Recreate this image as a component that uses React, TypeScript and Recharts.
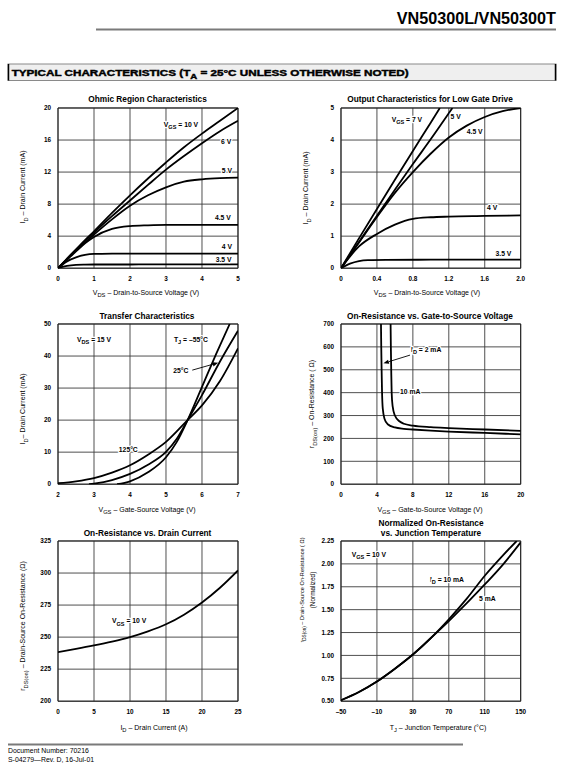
import React from 'react';
import {
  LineChart,
  Line,
  XAxis,
  YAxis,
  CartesianGrid,
  ReferenceDot,
  ReferenceLine,
  ReferenceArea,
} from 'recharts';

const FONT = '"Liberation Sans", Arial, Helvetica, sans-serif';
type P = [number, number];
const zip = (xs: number[], ys: number[]): P[] => xs.map((x, i) => [x, ys[i]] as P);

// ---------- 1. Ohmic Region Characteristics (ID mA vs VDS V)
const ohmicVds = [0, 0.25, 0.5, 0.75, 1, 1.5, 2, 2.5, 3, 3.5, 4, 4.5, 5];
const ohmic10V = [0, 1.2, 2.35, 3.5, 4.6, 6.9, 9.1, 11.2, 13.2, 15.1, 16.8, 18.4, 20.0];
const ohmic6V = [0, 1.15, 2.3, 3.4, 4.45, 6.5, 8.45, 10.4, 12.3, 14.0, 15.6, 17.1, 18.4];
const ohmic5V = [0, 1.1, 2.2, 3.2, 4.2, 6.1, 7.8, 9.1, 10.1, 10.8, 11.1, 11.25, 11.3];
const ohmic45V = [0, 1.05, 2.1, 3.1, 3.9, 4.9, 5.25, 5.35, 5.4, 5.4, 5.4, 5.4, 5.4];
const ohmic4V = [0, 0.85, 1.35, 1.65, 1.78, 1.82, 1.83, 1.83, 1.83, 1.83, 1.83, 1.83, 1.83];
const ohmic35V = [0, 0.3, 0.42, 0.45, 0.46, 0.46, 0.46, 0.47, 0.47, 0.47, 0.47, 0.47, 0.47];
const ohmicXTicks = [0, 1, 2, 3, 4, 5];
const ohmicYTicks = [0, 4, 8, 12, 16, 20];
const ohmicLabels = [
  { x: 2.94, y: 17.9, text: 'V_{GS} = 10 V' },
  { x: 4.53, y: 15.8, text: '6 V' },
  { x: 4.55, y: 12.2, text: '5 V' },
  { x: 4.36, y: 6.3, text: '4.5 V' },
  { x: 4.55, y: 2.7, text: '4 V' },
  { x: 4.38, y: 1.04, text: '3.5 V' },
];

// ---------- 2. Output Characteristics for Low Gate Drive
const low7V: P[] = [[0, 0], [0.2, 0.93], [0.4, 1.85], [0.6, 2.76], [0.8, 3.66], [1.0, 4.55], [1.1, 5.0]];
const low5V: P[] = [[0, 0], [0.2, 0.82], [0.4, 1.64], [0.6, 2.45], [0.8, 3.25], [1.0, 4.03], [1.24, 5.0]];
const low45V: P[] = [[0, 0], [0.2, 0.8], [0.4, 1.6], [0.6, 2.35], [0.8, 3.0], [1.0, 3.58], [1.2, 4.08], [1.4, 4.45], [1.6, 4.72], [1.8, 4.9], [2.0, 5.0]];
const low4V: P[] = [[0, 0], [0.2, 0.68], [0.4, 1.07], [0.6, 1.36], [0.8, 1.54], [1.0, 1.59], [1.2, 1.61], [1.6, 1.63], [2.0, 1.65]];
const low35V: P[] = [[0, 0], [0.1, 0.14], [0.2, 0.22], [0.3, 0.25], [0.5, 0.26], [1.0, 0.265], [2.0, 0.27]];
const lowXTicks = [0, 0.4, 0.8, 1.2, 1.6, 2.0];
const lowYTicks = [0, 1, 2, 3, 4, 5];
const lowLabels = [
  { x: 0.564, y: 4.64, text: 'V_{GS} = 7 V' },
  { x: 1.22, y: 4.74, text: '5 V' },
  { x: 1.4, y: 4.25, text: '4.5 V' },
  { x: 1.625, y: 1.89, text: '4 V' },
  { x: 1.72, y: 0.47, text: '3.5 V' },
];

// ---------- 3. Transfer Characteristics (ID mA vs VGS V)
const tr125: P[] = [[2, 0.3], [2.5, 0.9], [3, 1.9], [3.5, 3.6], [4, 5.9], [4.5, 9.2], [5, 13.2], [5.6, 20], [6, 24.6], [6.5, 32.2], [7, 42.4]];
const tr25: P[] = [[2.86, 0], [3, 0.2], [3.5, 1.3], [4, 3.2], [4.5, 6.1], [5, 10.1], [5.3, 14.2], [5.6, 20], [6, 27.8], [6.5, 38.3], [7, 47.9]];
const trM55: P[] = [[3.64, 0], [4, 0.9], [4.5, 3.7], [5, 8.4], [5.3, 13.2], [5.6, 20], [6, 30.4], [6.4, 40.8], [6.77, 50]];
const trXTicks = [2, 3, 4, 5, 6, 7];
const trYTicks = [0, 10, 20, 30, 40, 50];
const trLabels = [
  { x: 2.53, y: 45.2, text: 'V_{DS} = 15 V' },
  { x: 5.22, y: 45.2, text: 'T_{J} = –55°C' },
  { x: 5.2, y: 35.4, text: '25°C' },
  { x: 3.69, y: 10.8, text: '125°C' },
];
const trArrows = [{ from: [5.73, 35.6] as P, to: [6.45, 37.9] as P }];

// ---------- 4. On-Resistance vs. Gate-to-Source Voltage
const rv2mA: P[] = [[4.45, 700], [4.48, 600], [4.52, 500], [4.57, 400], [4.65, 330], [4.85, 285], [5.2, 262], [6, 248], [7, 242], [8, 239], [10, 234], [12, 230], [16, 224], [20, 218]];
const rv10mA: P[] = [[5.52, 700], [5.55, 600], [5.59, 500], [5.64, 400], [5.75, 340], [6, 300], [6.5, 275], [7, 264], [8, 256], [10, 249], [12, 245], [16, 239], [20, 233]];
const rvXTicks = [0, 4, 8, 12, 16, 20];
const rvYTicks = [0, 100, 200, 300, 400, 500, 600, 700];
const rvLabels = [
  { x: 7.8, y: 589, text: 'I_{D} = 2 mA' },
  { x: 6.57, y: 404, text: '10 mA' },
];
const rvArrows = [{ from: [7.68, 564] as P, to: [4.72, 528] as P }];

// ---------- 5. On-Resistance vs. Drain Current
const riId = [0, 2.5, 5, 7.5, 10, 12.5, 15, 17.5, 20, 22.5, 25];
const riR = [238.3, 240.8, 243.5, 246.5, 250, 254.5, 260, 267.5, 277, 288.5, 302];
const riXTicks = [0, 5, 10, 15, 20, 25];
const riYTicks = [200, 225, 250, 275, 300, 325];
const riLabels = [{ x: 7.5, y: 262.5, text: 'V_{GS} = 10 V' }];

// ---------- 6. Normalized On-Resistance vs. Junction Temperature
const nt10mA: P[] = [[-50, 0.51], [-30, 0.6], [-10, 0.715], [10, 0.855], [30, 1.01], [50, 1.19], [70, 1.395], [90, 1.62], [110, 1.87], [130, 2.09], [145.5, 2.25]];
const nt5mA: P[] = [[-50, 0.51], [-30, 0.6], [-10, 0.715], [10, 0.855], [30, 1.01], [50, 1.19], [70, 1.375], [90, 1.57], [110, 1.775], [130, 1.99], [150, 2.235]];
const ntXTicks = [-50, -10, 30, 70, 110, 150];
const ntYTicks = [0.5, 0.75, 1.0, 1.25, 1.5, 1.75, 2.0, 2.25];
const ntLabels = [
  { x: -38, y: 2.1, text: 'V_{GS} = 10 V' },
  { x: 49, y: 1.83, text: 'I_{D} = 10 mA' },
  { x: 103.6, y: 1.62, text: '5 mA' },
];

// ---------- helpers
function rich(s: string, fs: number) {
  const out: React.ReactNode[] = [];
  const re = /_\{([^}]*)\}/g;
  let last = 0;
  let k = 0;
  let shifted = false;
  let m: RegExpExecArray | null;
  const sh = fs * 0.3;
  while ((m = re.exec(s))) {
    if (m.index > last) {
      out.push(<tspan key={k++} dy={shifted ? -sh : 0}>{s.slice(last, m.index)}</tspan>);
      shifted = false;
    }
    out.push(
      <tspan key={k++} fontSize={fs * 0.82} dy={shifted ? 0 : sh}>
        {m[1]}
      </tspan>
    );
    shifted = true;
    last = re.lastIndex;
  }
  if (last < s.length) out.push(<tspan key={k++} dy={shifted ? -sh : 0}>{s.slice(last)}</tspan>);
  return out;
}

function T({ x, y, s, fs, anchor = 'middle', bold = false, rot = false, len }: any) {
  const by = y + fs * 0.35;
  return (
    <text
      x={x}
      y={by}
      fontSize={fs}
      fontFamily={FONT}
      fontWeight={bold ? 700 : 400}
      textAnchor={anchor}
      fill="#000"
      transform={rot ? `rotate(-90 ${x} ${y})` : undefined}
      textLength={len}
      lengthAdjust={len ? 'spacingAndGlyphs' : undefined}
    >
      {rich(s, fs)}
    </text>
  );
}

const ArrowShape = (sp: any) => {
  const { x1, y1, x2, y2 } = sp;
  const a = Math.atan2(y2 - y1, x2 - x1);
  const L = 5.5;
  const Wd = 2.2;
  const bx = x2 - L * Math.cos(a);
  const by = y2 - L * Math.sin(a);
  const pts = `${x2},${y2} ${bx - Wd * Math.sin(a)},${by + Wd * Math.cos(a)} ${bx + Wd * Math.sin(a)},${by - Wd * Math.cos(a)}`;
  return (
    <g>
      <line x1={x1} y1={y1} x2={bx} y2={by} stroke="#000" strokeWidth={0.9} />
      <polygon points={pts} fill="#000" />
    </g>
  );
};

type Lab = { x: number; y: number; text: string };
type Arr = { from: P; to: P };
type PanelProps = {
  left: number;
  top: number;
  w: number;
  h: number;
  xDomain: [number, number];
  xTicks: number[];
  xFmt?: (v: number) => string;
  yDomain: [number, number];
  yTicks: number[];
  yFmt?: (v: number) => string;
  series: P[][];
  labels: Lab[];
  arrows?: Arr[];
};

const LFS = 6.8;
const TICK = { fontSize: 6.4, fontWeight: 700, fill: '#000', fontFamily: FONT };
const AFS = 7.0;
const TFS = 8.3;

function Panel(p: PanelProps) {
  const ML = 44;
  const MR = 8;
  const MT = 8;
  const MB = 22;
  const W = p.w + ML + MR;
  const H = p.h + MT + MB;
  return (
    <div style={{ position: 'absolute', left: p.left - ML, top: p.top - MT, width: W, height: H }}>
      <LineChart width={W} height={H} margin={{ top: MT, right: MR, left: 0, bottom: 0 }}>
        <CartesianGrid stroke="#3c3c3c" strokeWidth={0.9} />
        <XAxis
          type="number"
          dataKey="x"
          domain={p.xDomain}
          ticks={p.xTicks}
          interval={0}
          height={MB}
          axisLine={false}
          tickLine={false}
          tickSize={0}
          tickMargin={8}
          tick={TICK}
          tickFormatter={p.xFmt}
          allowDataOverflow
        />
        <YAxis
          type="number"
          dataKey="y"
          domain={p.yDomain}
          ticks={p.yTicks}
          interval={0}
          width={ML}
          axisLine={false}
          tickLine={false}
          tickSize={0}
          tickMargin={7}
          tick={TICK}
          tickFormatter={p.yFmt}
          allowDataOverflow
        />
        <ReferenceArea
          x1={p.xDomain[0]}
          x2={p.xDomain[1]}
          y1={p.yDomain[0]}
          y2={p.yDomain[1]}
          fill="none"
          stroke="#222"
          strokeWidth={1}
          ifOverflow="visible"
        />
        {p.series.map((s, i) => (
          <Line
            key={i}
            data={s.map(([x, y]) => ({ x, y }))}
            dataKey="y"
            type="monotone"
            stroke="#000"
            strokeWidth={1.8}
            dot={false}
            activeDot={false}
            isAnimationActive={false}
          />
        ))}
        {(p.arrows || []).map((a, i) => (
          <ReferenceLine
            key={'a' + i}
            segment={[
              { x: a.from[0], y: a.from[1] },
              { x: a.to[0], y: a.to[1] },
            ]}
            ifOverflow="visible"
            shape={ArrowShape}
          />
        ))}
        {p.labels.map((l, i) => (
          <ReferenceDot
            key={'l' + i}
            x={l.x}
            y={l.y}
            r={0}
            ifOverflow="visible"
            shape={(sp: any) => (
              <text
                x={sp.cx}
                y={sp.cy + LFS * 0.35}
                fontSize={LFS}
                fontFamily={FONT}
                fontWeight={700}
                textAnchor="start"
                fill="#000"
                stroke="#fff"
                strokeWidth={2.4}
                strokeLinejoin="round"
                paintOrder="stroke"
              >
                {rich(l.text, LFS)}
              </text>
            )}
          />
        ))}
      </LineChart>
    </div>
  );
}

const fmt1 = (v: number) => (v === 0 ? '0' : v.toFixed(1));
const fmt2 = (v: number) => v.toFixed(2);
const fmtNeg = (v: number) => (v < 0 ? '–' + Math.abs(v) : String(v));

const LX = 57.8;
const LW = 180;
const RX = 341.3;
const RW = 179.7;
const PH = 160.2;

export default function App() {
  return (
    <div style={{ position: 'absolute', left: 0, top: 0, width: 564, height: 770, background: '#fff' }}>
      <svg width={564} height={770} style={{ position: 'absolute', left: 0, top: 0 }}>
        {/* page header */}
        <text x={556} y={23.5} fontSize={16.2} fontFamily={FONT} fontWeight={700} textAnchor="end" fill="#000">
          VN50300L/VN50300T
        </text>
        <line x1={96} x2={556} y1={29.5} y2={29.5} stroke="#7a7a7a" strokeWidth={2} />
        <rect x={8} y={64} width={548} height={16.5} fill="#efefef" stroke="#8a8a8a" strokeWidth={1} />
        <line x1={8.5} x2={8.5} y1={64} y2={80.5} stroke="#000" strokeWidth={1.5} />
        <line x1={555.5} x2={555.5} y1={64} y2={80.5} stroke="#000" strokeWidth={1.5} />
        <text x={11.7} y={75.7} fontSize={9.4} fontFamily={FONT} fontWeight={700} fill="#000" stroke="#000" strokeWidth={0.45} textLength={397} lengthAdjust="spacingAndGlyphs">
          {rich('TYPICAL CHARACTERISTICS (T_{A} = 25°C UNLESS OTHERWISE NOTED)', 9.4)}
        </text>

        {/* chart titles */}
        <T x={147.5} y={99} s="Ohmic Region Characteristics" fs={TFS} bold />
        <T x={430} y={99} s="Output Characteristics for Low Gate Drive" fs={TFS} bold />
        <T x={147} y={315.7} s="Transfer Characteristics" fs={TFS} bold />
        <T x={430} y={315.7} s="On-Resistance vs. Gate-to-Source Voltage" fs={TFS} bold />
        <T x={147.5} y={533.3} s="On-Resistance vs. Drain Current" fs={TFS} bold />
        <T x={431} y={523.3} s="Normalized On-Resistance" fs={TFS} bold />
        <T x={431} y={532.7} s="vs. Junction Temperature" fs={TFS} bold />

        {/* x-axis titles */}
        <T x={146} y={292.5} s="V_{DS}  –  Drain-to-Source Voltage (V)" fs={AFS} />
        <T x={427} y={292.5} s="V_{DS}  –  Drain-to-Source Voltage (V)" fs={AFS} />
        <T x={147} y={509.5} s="V_{GS} – Gate-Source Voltage (V)" fs={AFS} />
        <T x={430} y={509.5} s="V_{GS} – Gate-to-Source Voltage (V)" fs={AFS} />
        <T x={154} y={727.5} s="I_{D}  –  Drain Current (A)" fs={AFS} />
        <T x={438} y={727.5} s="T_{J}  –  Junction Temperature (°C)" fs={AFS} />

        {/* y-axis titles */}
        <T x={23} y={187} s="I_{D} – Drain Current (mA)" fs={AFS} rot />
        <T x={306} y={188} s="I_{D} – Drain Current (mA)" fs={AFS} rot />
        <T x={23} y={409} s="I_{D}– Drain Current (mA)" fs={AFS} rot />
        <T x={312} y={404} s="r_{DS(on)} – On-Resistance ( Ω)" fs={AFS} rot />
        <T x={23} y={626} s="r_{DS(on)} – Drain-Source On-Resistance (Ω)" fs={AFS} rot />
        <T x={302.5} y={590} s="r_{DS(on)} – Drain-Source On-Resistance ( Ω)" fs={5.6} rot />
        <T x={312.5} y={590} s="(Normalized)" fs={6.4} rot />

        {/* footer */}
        <line x1={8} x2={463} y1={744.5} y2={744.5} stroke="#7a7a7a" strokeWidth={2} />
        <T x={8} y={751} s="Document Number:  70216" fs={6.9} anchor="start" />
        <T x={8} y={760} s="S-04279—Rev. D, 16-Jul-01" fs={6.9} anchor="start" />
      </svg>

      <Panel
        left={LX}
        top={107.5}
        w={LW}
        h={PH}
        xDomain={[0, 5]}
        xTicks={ohmicXTicks}
        yDomain={[0, 20]}
        yTicks={ohmicYTicks}
        series={[ohmic10V, ohmic6V, ohmic5V, ohmic45V, ohmic4V, ohmic35V].map((ys) => zip(ohmicVds, ys))}
        labels={ohmicLabels}
      />
      <Panel
        left={RX}
        top={107.5}
        w={RW}
        h={PH}
        xDomain={[0, 2]}
        xTicks={lowXTicks}
        xFmt={fmt1}
        yDomain={[0, 5]}
        yTicks={lowYTicks}
        series={[low7V, low5V, low45V, low4V, low35V]}
        labels={lowLabels}
      />
      <Panel
        left={LX}
        top={324}
        w={LW}
        h={PH}
        xDomain={[2, 7]}
        xTicks={trXTicks}
        yDomain={[0, 50]}
        yTicks={trYTicks}
        series={[tr125, tr25, trM55]}
        labels={trLabels}
        arrows={trArrows}
      />
      <Panel
        left={RX}
        top={324}
        w={RW}
        h={PH}
        xDomain={[0, 20]}
        xTicks={rvXTicks}
        yDomain={[0, 700]}
        yTicks={rvYTicks}
        series={[rv2mA, rv10mA]}
        labels={rvLabels}
        arrows={rvArrows}
      />
      <Panel
        left={LX}
        top={540.7}
        w={LW}
        h={PH}
        xDomain={[0, 25]}
        xTicks={riXTicks}
        yDomain={[200, 325]}
        yTicks={riYTicks}
        series={[zip(riId, riR)]}
        labels={riLabels}
      />
      <Panel
        left={RX}
        top={540.7}
        w={RW}
        h={PH}
        xDomain={[-50, 150]}
        xTicks={ntXTicks}
        xFmt={fmtNeg}
        yDomain={[0.5, 2.25]}
        yTicks={ntYTicks}
        yFmt={fmt2}
        series={[nt10mA, nt5mA]}
        labels={ntLabels}
      />
    </div>
  );
}
